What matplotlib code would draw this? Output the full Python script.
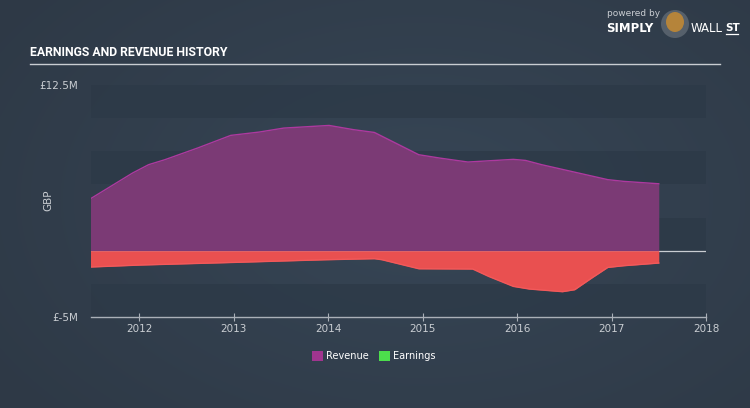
import numpy as np
import matplotlib
matplotlib.use("Agg")
import matplotlib.pyplot as plt
from matplotlib.patches import Rectangle, Ellipse
import matplotlib.font_manager as fm

# ---- data (GBP millions) ----
rev_years = [2011.48, 2011.93, 2012.10, 2012.27, 2012.62, 2012.97, 2013.27, 2013.53,
             2014.01, 2014.27, 2014.49, 2014.96, 2015.18, 2015.48, 2015.96, 2016.09,
             2016.26, 2016.96, 2017.13, 2017.50]
revenue = [3.90, 5.86, 6.49, 6.86, 7.75, 8.70, 8.95, 9.25,
           9.45, 9.13, 8.92, 7.24, 6.99, 6.69, 6.89, 6.81,
           6.49, 5.36, 5.23, 5.05]

earn_years = [2011.48, 2012.01, 2013.01, 2013.97, 2014.49, 2014.57, 2014.96, 2015.53,
              2015.70, 2015.96, 2016.13, 2016.48, 2016.61, 2016.79, 2016.96, 2017.13, 2017.50]
earnings = [-1.23, -1.08, -0.88, -0.68, -0.60, -0.68, -1.36, -1.38,
            -1.94, -2.69, -2.89, -3.09, -2.94, -2.06, -1.26, -1.13, -0.93]

x_ticks = [2012, 2013, 2014, 2015, 2016, 2017, 2018]
y_tick_vals = [12.5, -5]
y_tick_labels = ["£12.5M", "£-5M"]
legend_labels = ["Revenue", "Earnings"]

BG = "#333f4d"
BAND = "#2c3947"
TXT = "#c9cdd2"
REV_FILL = "#7b3a75"
REV_LINE = "#ad399f"
EARN_FILL = "#e95050"
EARN_LINE = "#f2595a"

installed = {f.name for f in fm.fontManager.ttflist}
title_family = "Liberation Sans Narrow" if "Liberation Sans Narrow" in installed else "Roboto"

fig = plt.figure(figsize=(7.5, 4.08), dpi=100)
fig.patch.set_facecolor(BG)

# subtle radial gradient background
yy, xx = np.mgrid[0:408, 0:750]
r = np.sqrt(((xx - 420) / 520.0) ** 2 + ((yy - 200) / 330.0) ** 2)
c0 = np.array([0x37, 0x46, 0x56]) / 255.0
c1 = np.array([0x2e, 0x39, 0x46]) / 255.0
t = np.clip(r, 0, 1)[..., None]
img = c0 * (1 - t) + c1 * t
bg_ax = fig.add_axes([0, 0, 1, 1], zorder=-10)
bg_ax.imshow(img, aspect="auto", extent=[0, 1, 0, 1])
bg_ax.axis("off")

ax = fig.add_axes([91 / 750, 1 - 317 / 408, (706 - 91) / 750, (317 - 85) / 408])
ax.set_facecolor("none")
ax.set_xlim(2011.49, 2018.0)
ax.set_ylim(-5, 12.5)

for lo in [10, 5, 0, -5]:
    ax.axhspan(lo, lo + 2.5, color=BAND, alpha=0.75, lw=0, zorder=0)

ax.axhline(0, color="#c9cdd2", lw=0.9, zorder=1)
ax.fill_between(rev_years, 0, revenue, color=REV_FILL, lw=0, zorder=2)
ax.plot(rev_years, revenue, color=REV_LINE, lw=1.0, zorder=3)
ax.fill_between(earn_years, 0, earnings, color=EARN_FILL, lw=0, zorder=2)
ax.plot(earn_years, earnings, color=EARN_LINE, lw=1.0, zorder=3)

for s in ["top", "right", "left"]:
    ax.spines[s].set_visible(False)
ax.spines["bottom"].set_color("#aab0b8")
ax.spines["bottom"].set_linewidth(1.0)

ax.set_xticks(x_ticks)
ax.set_xticklabels([str(v) for v in x_ticks])
ax.tick_params(axis="x", colors="#aab0b8", labelcolor=TXT, labelsize=7.5,
               length=6, direction="inout", pad=2)
ax.set_yticks(y_tick_vals)
ax.set_yticklabels(y_tick_labels)
ax.tick_params(axis="y", length=0, labelcolor=TXT, labelsize=7.5, pad=9)
ax.set_ylabel("GBP", color=TXT, fontsize=7.5)
ax.yaxis.set_label_coords((53 - 91) / 615, (317 - 200) / 232)

# title and underline
fig.text(30 / 750, 1 - 53 / 408, "EARNINGS AND REVENUE HISTORY", color="white",
         fontsize=8.8, fontweight="bold", family=title_family,
         va="center", ha="left")
fig.add_artist(plt.Line2D([30 / 750, 720 / 750], [1 - 63.5 / 408] * 2,
                          color="#c9cdd2", lw=1.0, transform=fig.transFigure))

# legend
lx = [316, 383]
legend_colors = ["#a0358f", "#4cde4c"]
for x0, col, lab in zip(lx, legend_colors, legend_labels):
    fig.add_artist(Rectangle(((x0 - 4.5) / 750, 1 - 361 / 408), 11 / 750, 10 / 408,
                             transform=fig.transFigure, color=col, lw=0))
    fig.text((x0 + 10) / 750, 1 - 356 / 408, lab, color="white", fontsize=7,
             va="center", ha="left")

# logo
fig.text(607 / 750, 1 - 14 / 408, "powered by", color="#c9cdd2", fontsize=6.5,
         va="center", ha="left")
fig.text(606 / 750, 1 - 28 / 408, "SIMPLY", color="white", fontsize=8.5,
         fontweight="bold", va="center", ha="left")
fig.add_artist(Ellipse((675 / 750, 1 - 24 / 408), 28 / 750, 28 / 408,
                       transform=fig.transFigure, color="#56606b", lw=0))
fig.add_artist(Ellipse((675 / 750, 1 - 22 / 408), 18 / 750, 20 / 408,
                       transform=fig.transFigure, color="#b5843a", lw=0))
fig.text(691 / 750, 1 - 28 / 408, "WALL", color="white", fontsize=8.5,
         va="center", ha="left")
fig.text(725 / 750, 1 - 28 / 408, "ST", color="white", fontsize=7.5,
         fontweight="bold", va="center", ha="left")
fig.add_artist(plt.Line2D([725.5 / 750, 738 / 750], [1 - 33.5 / 408] * 2,
                          color="white", lw=0.9, transform=fig.transFigure))

fig.savefig("out.png", dpi=100, facecolor=fig.get_facecolor())
